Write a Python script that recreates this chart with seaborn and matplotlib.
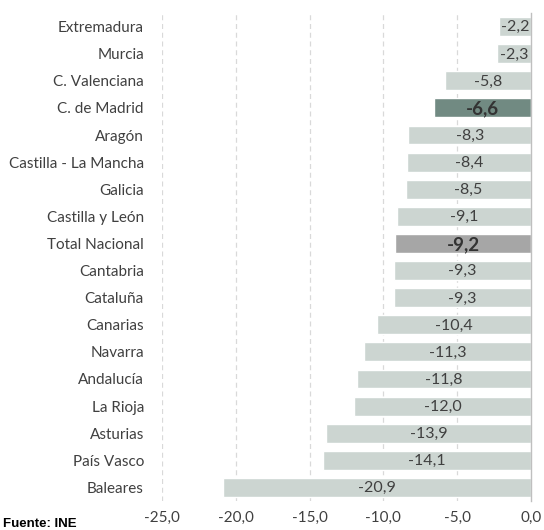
import matplotlib
matplotlib.use("Agg")
import matplotlib.pyplot as plt
import seaborn as sns
import pandas as pd

regions = ["Extremadura", "Murcia", "C. Valenciana", "C. de Madrid", "Aragón",
           "Castilla - La Mancha", "Galicia", "Castilla y León", "Total Nacional",
           "Cantabria", "Cataluña", "Canarias", "Navarra", "Andalucía", "La Rioja",
           "Asturias", "País Vasco", "Baleares"]
values = [-2.2, -2.3, -5.8, -6.6, -8.3, -8.4, -8.5, -9.1, -9.2,
          -9.3, -9.3, -10.4, -11.3, -11.8, -12.0, -13.9, -14.1, -20.9]
xticks = [-25, -20, -15, -10, -5, 0]

highlight = {"C. de Madrid": "madrid", "Total Nacional": "total"}
kinds = [highlight.get(r, "other") for r in regions]
palette = {"other": "#CCD5D1", "madrid": "#718A82", "total": "#A6A6A6"}

df = pd.DataFrame({"region": regions, "value": values, "kind": kinds})

sns.set_style("white")
plt.rcParams["font.family"] = ["Lato", "DejaVu Sans"]
text_color = "#404040"

fig = plt.figure(figsize=(5.44, 5.30), dpi=100)
ax = fig.add_axes([162/544, 1 - 501/530, (531-162)/544, (501-13)/530])

sns.barplot(data=df, y="region", x="value", hue="kind", palette=palette,
            order=regions, dodge=False, width=0.7, legend=False, ax=ax,
            saturation=1)

ax.set_xlim(-25, 0)
ax.set_ylim(len(regions) - 0.5, -0.5)
ax.set_xticks(xticks)
ax.set_xticklabels([f"{t:.1f}".replace(".", ",") for t in xticks],
                   fontsize=11, color=text_color)
ax.tick_params(axis="x", length=0, pad=7)
ax.tick_params(axis="y", length=0, pad=13)
for lab in ax.get_yticklabels():
    lab.set_fontsize(11)
    lab.set_color(text_color)
ax.set_xlabel("")
ax.set_ylabel("")

for x in xticks[:-1]:
    ax.axvline(x, color="#D9D9D9", lw=0.9, ls=(0, (4, 3)), zorder=0)
for s in ["top", "left", "bottom"]:
    ax.spines[s].set_visible(False)
ax.spines["right"].set_color("#BFBFBF")
ax.spines["right"].set_linewidth(1)

for i, (r, v) in enumerate(zip(regions, values)):
    lbl = f"{v:.1f}".replace(".", ",")
    bold = r in highlight
    ax.text(v / 2, i + 0.03, lbl, ha="center", va="center",
            fontsize=13.5 if bold else 11.5, fontweight="bold" if bold else "normal",
            color="#333333" if bold else text_color)

fig.text(3/544, 1 - 518/530, "Fuente: INE", fontsize=9.5, fontweight="bold",
         family=["Liberation Sans", "DejaVu Sans"], color="#000000",
         ha="left", va="top")

fig.savefig("out.png", dpi=100)
